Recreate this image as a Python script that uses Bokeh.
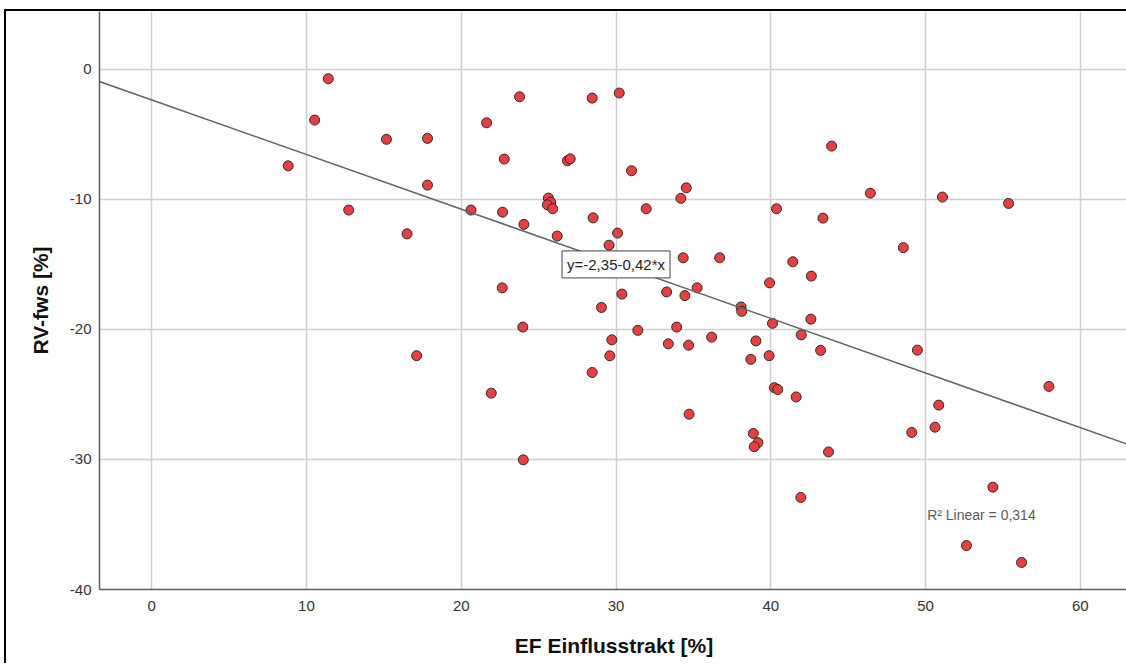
from bokeh.plotting import figure
from bokeh.models import (ColumnDataSource, Range1d, FixedTicker, Label, Slope,
                          PrintfTickFormatter)
from bokeh.embed import file_html
from bokeh.resources import INLINE

# EF Einflusstrakt [%] (x) and RV-fws [%] (y) per case
ef = [11.41, 10.53, 15.17, 8.82, 12.73, 17.82, 23.77, 28.46, 30.21, 21.64,
      22.78, 26.86, 27.04, 31.00, 17.82, 34.54, 34.19, 20.63, 22.67, 25.63,
      25.78, 25.57, 25.91, 31.95, 40.37, 24.05, 28.52, 26.20, 30.10, 29.55,
      43.93, 46.43, 51.09, 55.36, 43.37, 48.56, 16.50, 34.34, 36.70, 41.42,
      42.62, 39.92, 22.65, 30.38, 33.27, 34.45, 35.24, 29.06, 38.08, 38.12,
      40.11, 42.59, 41.97, 23.98, 31.41, 33.92, 29.73, 33.38, 34.69, 36.18,
      39.04, 43.22, 49.47, 17.12, 29.60, 38.71, 39.89, 28.46, 21.94, 40.23,
      40.45, 41.64, 34.72, 57.97, 50.85, 49.11, 50.61, 38.87, 39.17, 38.93,
      43.73, 24.01, 41.94, 54.35, 52.64, 56.20]
rv = [-0.72, -3.90, -5.38, -7.42, -10.82, -5.31, -2.11, -2.21, -1.82, -4.11,
      -6.90, -7.03, -6.88, -7.80, -8.90, -9.11, -9.92, -10.82, -10.98, -9.90,
      -10.21, -10.42, -10.72, -10.72, -10.72, -11.92, -11.42, -12.82, -12.59, -13.52,
      -5.90, -9.52, -9.82, -10.31, -11.44, -13.71, -12.65, -14.49, -14.49, -14.80,
      -15.90, -16.42, -16.80, -17.28, -17.12, -17.40, -16.80, -18.31, -18.27, -18.61,
      -19.53, -19.21, -20.42, -19.82, -20.07, -19.82, -20.80, -21.11, -21.21, -20.59,
      -20.88, -21.61, -21.59, -22.02, -22.03, -22.30, -22.02, -23.31, -24.90, -24.48,
      -24.62, -25.19, -26.52, -24.38, -25.82, -27.92, -27.52, -28.00, -28.71, -29.02,
      -29.42, -30.03, -32.92, -32.13, -36.62, -37.92]

# linear fit reported for the data
intercept = -2.35
slope = -0.42
r_squared = 0.314

x_ticks = [0, 10, 20, 30, 40, 50, 60]
y_ticks = [-40, -30, -20, -10, 0]

FONT = "Liberation Sans"


def de_num(v, digits):
    return f"{v:.{digits}f}".replace(".", ",")


source = ColumnDataSource(data=dict(ef=ef, rv=rv))

p = figure(width=1120, height=652,
           x_range=Range1d(-3.37, 63.11), y_range=Range1d(-40.0, 4.45),
           output_backend="svg", toolbar_location=None,
           min_border_left=93, min_border_right=0,
           min_border_top=0, min_border_bottom=76)
# frame of the chart window: black rule on the left and top edges only
p.styles = {"border-left": "2px solid black", "border-top": "2px solid black",
            "border-right": "none", "border-bottom": "none",
            "box-sizing": "content-box", "overflow": "hidden",
            "margin-left": "4px", "margin-top": "9px"}

p.background_fill_color = "white"
p.border_fill_color = "white"
p.outline_line_color = None

for ax, ticks in ((p.xaxis[0], x_ticks), (p.yaxis[0], y_ticks)):
    ax.ticker = FixedTicker(ticks=ticks)
    ax.formatter = PrintfTickFormatter(format="%d")
    ax.axis_line_color = "#5c5c5c"
    ax.axis_line_width = 1.5
    ax.major_tick_line_color = None
    ax.minor_tick_line_color = None
    ax.major_tick_out = 0
    ax.major_tick_in = 0
    ax.minor_tick_out = 0
    ax.minor_tick_in = 0
    ax.major_label_text_font = FONT
    ax.major_label_text_font_size = "15px"
    ax.major_label_text_color = "#333333"
    ax.axis_label_text_font = FONT
    ax.axis_label_text_font_style = "bold"
    ax.axis_label_text_font_size = "21px"
    ax.axis_label_text_color = "#111111"

p.xaxis.axis_label = "EF Einflusstrakt [%]"
p.yaxis.axis_label = "RV-fws [%]"
p.xaxis.major_label_standoff = 11
p.yaxis.major_label_standoff = 8
p.xaxis.axis_label_standoff = 20
p.yaxis.axis_label_standoff = 15

p.xgrid.ticker = FixedTicker(ticks=x_ticks)
p.ygrid.ticker = FixedTicker(ticks=y_ticks)
p.grid.grid_line_color = "#cfcfcf"
p.grid.grid_line_width = 1.5

fit = Slope(gradient=slope, y_intercept=intercept,
            line_color="#5f6666", line_width=1.5)
p.add_layout(fit)

p.scatter("ef", "rv", source=source, size=10, marker="circle",
          fill_color="#e8403f", line_color="#2b2b2b", line_width=1)

eq_text = f"y={de_num(intercept, 2)}-{de_num(abs(slope), 2)}*x"
p.add_layout(Label(x=30.0, y=-15.0, text=eq_text, text_align="center",
                   text_baseline="middle", text_font=FONT,
                   text_font_size="15px", text_color="#222222",
                   background_fill_color="white",
                   border_line_color="#444444", border_line_width=1,
                   padding=5))

p.add_layout(Label(x=50.1, y=-34.3, text=f"R\u00b2 Linear = {de_num(r_squared, 3)}",
                   text_align="left", text_baseline="middle",
                   text_font=FONT, text_font_size="14px",
                   text_color="#5a5a5a"))

open("out.html", "w").write(file_html(p, INLINE))
